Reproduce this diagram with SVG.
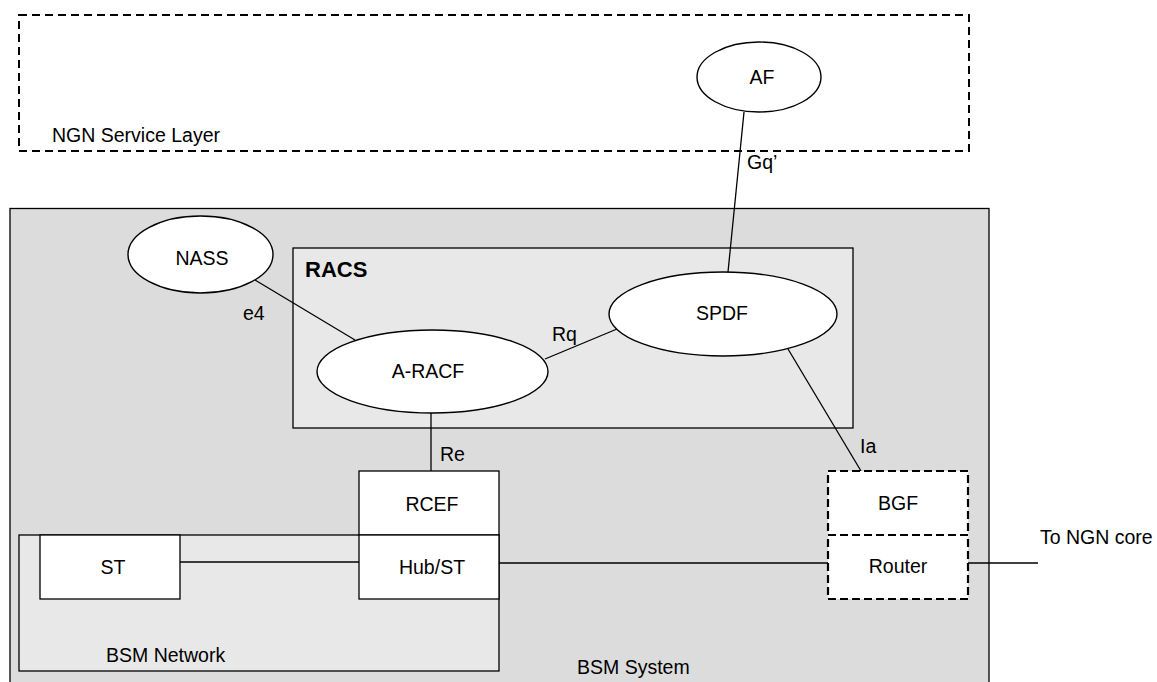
<svg xmlns="http://www.w3.org/2000/svg" width="1157" height="682" viewBox="0 0 1157 682">
<style>
text { font-family: "Liberation Sans", Arial, sans-serif; font-size: 19.5px; fill: #000; }
.c { text-anchor: middle; }
.b { font-weight: bold; font-size: 22px; }
.ell { fill: #fff; stroke: #000; stroke-width: 1.4; }
.box { fill: #fff; stroke: #000; stroke-width: 1.3; }
.dash { fill: none; stroke: #000; stroke-width: 2; stroke-dasharray: 8 5; }
.dbox { fill: #fff; stroke: #000; stroke-width: 2.2; stroke-dasharray: 8 4; }
.ln { stroke: #000; stroke-width: 1.3; fill: none; }
</style>
<rect width="1157" height="682" fill="#fff"/>
<g id="ngn-service-layer">
<rect class="dash" x="19" y="15" width="950" height="136"/>
<text x="52" y="142">NGN Service Layer</text>
</g>
<g id="bsm-system">
<rect x="10" y="208.5" width="979" height="480" fill="#dcdcdc" stroke="#000" stroke-width="1.3"/>
<text x="577" y="674">BSM System</text>
</g>
<g id="racs">
<rect x="293" y="248" width="560" height="180" fill="#e8e8e8" stroke="#000" stroke-width="1.3"/>
<text class="b" x="305" y="277">RACS</text>
</g>
<g id="bsm-network">
<rect x="19" y="535" width="480" height="136" fill="#e8e8e8" stroke="#000" stroke-width="1.3"/>
<text x="106" y="662">BSM Network</text>
</g>
<g id="connectors">
<line class="ln" x1="744" y1="112" x2="728" y2="272"/>
<line class="ln" x1="255" y1="280" x2="355" y2="340"/>
<line class="ln" x1="545" y1="359" x2="617" y2="329"/>
<line class="ln" x1="788" y1="349" x2="861" y2="471"/>
<line class="ln" x1="431" y1="413" x2="431" y2="471"/>
<line class="ln" x1="180" y1="562" x2="359" y2="562"/>
<line class="ln" x1="499" y1="563" x2="828" y2="563"/>
<line class="ln" x1="968" y1="563" x2="1038" y2="563"/>
<text x="747" y="169">Gq’</text>
<text x="243" y="320">e4</text>
<text x="552" y="341">Rq</text>
<text x="860" y="453">Ia</text>
<text x="440" y="461">Re</text>
<text x="1040" y="544">To NGN core</text>
</g>
<g id="af">
<ellipse class="ell" cx="759" cy="77" rx="62" ry="35"/>
<text class="c" x="762" y="84">AF</text>
</g>
<g id="nass">
<ellipse class="ell" cx="200.5" cy="254.5" rx="72.5" ry="38.5"/>
<text class="c" x="202" y="265">NASS</text>
</g>
<g id="a-racf">
<ellipse class="ell" cx="432.5" cy="371.5" rx="115.5" ry="41.5"/>
<text class="c" x="428" y="378">A-RACF</text>
</g>
<g id="spdf">
<ellipse class="ell" cx="723" cy="314" rx="114" ry="42"/>
<text class="c" x="722" y="320">SPDF</text>
</g>
<g id="rcef">
<rect class="box" x="359" y="471" width="140" height="64"/>
<text class="c" x="432" y="511">RCEF</text>
</g>
<g id="hub-st">
<rect class="box" x="359" y="535" width="140" height="64"/>
<text class="c" x="432" y="574">Hub/ST</text>
</g>
<g id="st">
<rect class="box" x="40" y="535" width="140" height="64"/>
<text class="c" x="113" y="574">ST</text>
</g>
<g id="bgf">
<rect class="dbox" x="828" y="471" width="140" height="64"/>
<text class="c" x="898" y="510">BGF</text>
</g>
<g id="router">
<rect class="dbox" x="828" y="535" width="140" height="64"/>
<text class="c" x="898" y="573">Router</text>
</g>
</svg>
